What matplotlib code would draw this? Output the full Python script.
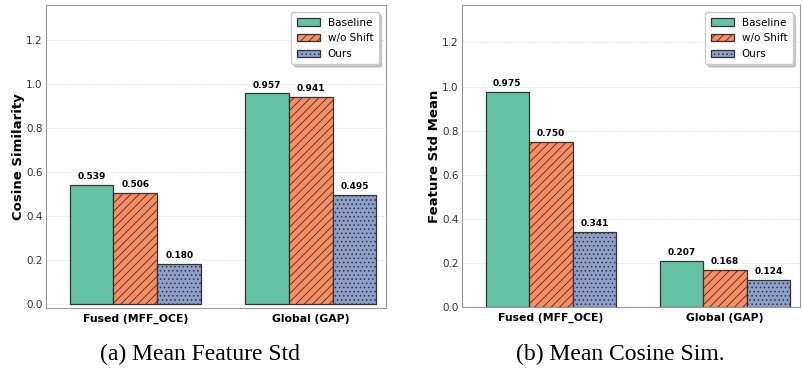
import matplotlib
matplotlib.use("Agg")
import matplotlib.pyplot as plt
import numpy as np

categories = ["Fused (MFF_OCE)", "Global (GAP)"]
methods = ["Baseline", "w/o Shift", "Ours"]
cos_sim = {"Baseline": [0.539, 0.957], "w/o Shift": [0.506, 0.941], "Ours": [0.180, 0.495]}
feat_std = {"Baseline": [0.975, 0.207], "w/o Shift": [0.750, 0.168], "Ours": [0.341, 0.124]}
y_ticks = [0.0, 0.2, 0.4, 0.6, 0.8, 1.0, 1.2]
colors = ["#66c2a5", "#fc8d62", "#8da0cb"]
hatches = ["", "////", "...."]

plt.rcParams["hatch.linewidth"] = 0.6
plt.rcParams["hatch.color"] = "#333333"

fig = plt.figure(figsize=(8.04, 3.71), dpi=100)
W, H = 804, 371
ax1 = fig.add_axes([46 / W, 1 - 308 / H, 340 / W, 303 / H])
ax2 = fig.add_axes([462 / W, 1 - 307 / H, 338 / W, 302 / H])


def draw(ax, data, ylabel, ylim):
    x = np.arange(len(categories))
    w = 0.25
    for i, m in enumerate(methods):
        vals = data[m]
        bars = ax.bar(x + (i - 1) * w, vals, w, color=colors[i], hatch=hatches[i],
                      edgecolor="#333333", linewidth=0.9, label=m, zorder=3)
        for b, v in zip(bars, vals):
            ax.text(b.get_x() + b.get_width() / 2, v + 0.018, f"{v:.3f}",
                    ha="center", va="bottom", fontsize=6.5, fontweight="bold")
    ax.set_xticks(x)
    ax.set_xticklabels(categories, fontweight="bold", fontsize=7.8)
    ax.set_yticks(y_ticks)
    ax.tick_params(axis="y", labelsize=7.5, length=0, pad=2.5, labelcolor="#333333")
    ax.tick_params(axis="x", length=0, pad=4)
    ax.set_ylabel(ylabel, fontweight="bold", fontsize=9.5, labelpad=1)
    ax.set_xlim(-0.51, 1.43)
    ax.set_ylim(*ylim)
    ax.grid(axis="y", linestyle="--", color="#cccccc", linewidth=0.5, alpha=0.6, zorder=0)
    for s in ax.spines.values():
        s.set_color("#999999")
        s.set_linewidth(0.8)
    ax.legend(loc="upper right", fontsize=7.5, fancybox=True,
              shadow={"color": "#aaaaaa", "alpha": 0.6},
              framealpha=1, edgecolor="#cccccc", handlelength=2.2, borderpad=0.5,
              borderaxespad=0.7, labelspacing=0.55)


draw(ax1, cos_sim, "Cosine Similarity", (-0.02, 1.36))
draw(ax2, feat_std, "Feature Std Mean", (0.0, 1.37))

fig.text(200 / W, 1 - 354 / H, "(a) Mean Feature Std", ha="center", va="center",
         fontsize=17, family=["Liberation Serif", "DejaVu Serif"])
fig.text(620 / W, 1 - 354 / H, "(b) Mean Cosine Sim.", ha="center", va="center",
         fontsize=17, family=["Liberation Serif", "DejaVu Serif"])

fig.savefig("out.png", dpi=100)
